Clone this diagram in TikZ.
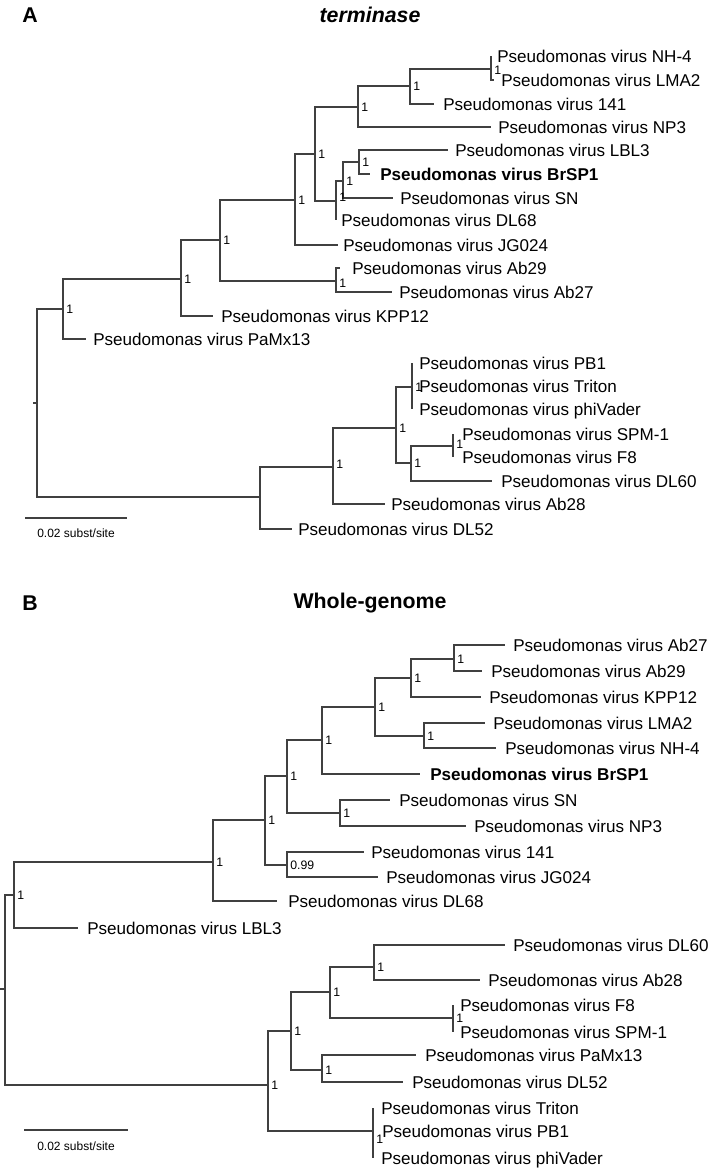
\documentclass[tikz,border=0pt]{standalone}
\usepackage{fontspec}
\setmainfont{Liberation Sans}
\begin{document}
\begin{tikzpicture}[x=0.75pt,y=-0.75pt,
  br/.style={draw=black!75,line width=0.8pt},
  lab/.style={inner sep=0pt,anchor=base west,font=\fontsize{12.8}{14}\selectfont},
  bsl/.style={inner sep=0pt,anchor=west,font=\fontsize{9.2}{10}\selectfont},
  ttl/.style={inner sep=0pt,font=\fontsize{16}{18}\selectfont\bfseries}]
\useasboundingbox (0,0) rectangle (709,1168);
\newcommand\lf[5]{\coordinate (#1) at (#2,#3); \node[lab] (#1t) at (#4,{#3+6}) {#5};}
\newcommand\bsv[3][1]{\node[bsl] (#2l) at ([xshift=2.3pt,yshift=#3]#2) {#1};}
% ---------- A ----------
\node[ttl] (tA) at (30,15) {A};
\node[ttl] (tAt) at (370,15) {\itshape terminase};
\coordinate (ar) at (37,403); \coordinate (arT) at (33,403);
\coordinate (a1) at (63,309); \coordinate (b1) at (260,497);
\coordinate (c1) at (181,279); \coordinate (d1) at (220,240);
\coordinate (e1) at (295,200); \coordinate (f1) at (336,281);
\coordinate (g1) at (315,154); \coordinate (h1) at (358,107);
\coordinate (i1) at (410,86); \coordinate (j1) at (491,69);
\coordinate (p1) at (336,201); \coordinate (q1) at (343,181);
\coordinate (s1) at (359,162);
\coordinate (k1) at (333,467); \coordinate (l1) at (396,428);
\coordinate (m1) at (412,387); \coordinate (n1) at (411,463);
\coordinate (o1) at (453,446);
\lf{aPa}{86}{339}{93}{Pseudomonas virus PaMx13}
\lf{aKP}{213}{316}{221}{Pseudomonas virus KPP12}
\lf{aA29}{340}{268}{352}{Pseudomonas virus Ab29}
\lf{aA27}{392}{292}{399}{Pseudomonas virus Ab27}
\lf{aJG}{338}{245}{343}{Pseudomonas virus JG024}
\lf{aNP}{491}{127}{498}{Pseudomonas virus NP3}
\lf{a141}{434}{104}{443}{Pseudomonas virus 141}
\lf{aNH}{491}{56}{497}{Pseudomonas virus NH-4}
\lf{aLM}{494}{80}{501}{Pseudomonas virus LMA2}
\lf{aDL68}{336}{220}{341}{Pseudomonas virus DL68}
\lf{aSN}{393}{198}{400}{Pseudomonas virus SN}
\lf{aLB}{448}{150}{455}{Pseudomonas virus LBL3}
\lf{aBr}{370}{174}{380}{\bfseries Pseudomonas virus BrSP1}
\lf{aDL52}{292}{529}{298}{Pseudomonas virus DL52}
\lf{aA28}{385}{504}{391}{Pseudomonas virus Ab28}
\lf{aPB}{412}{363}{419}{Pseudomonas virus PB1}
\lf{aTr}{412}{386}{419}{Pseudomonas virus Triton}
\lf{aPh}{412}{409}{419}{Pseudomonas virus phiVader}
\lf{aDL60}{492}{481}{501}{Pseudomonas virus DL60}
\lf{aSP}{453}{434}{462}{Pseudomonas virus SPM-1}
\lf{aF8}{453}{457}{462}{Pseudomonas virus F8}
\draw[br] (arT) -- (ar);
\foreach \p/\c in {ar/a1,ar/b1,a1/c1,a1/aPa,c1/d1,c1/aKP,d1/e1,d1/f1,f1/aA29,f1/aA27,
  e1/g1,e1/aJG,g1/h1,g1/p1,h1/i1,h1/aNP,i1/j1,i1/a141,j1/aNH,j1/aLM,p1/q1,p1/aDL68,
  q1/s1,q1/aSN,s1/aLB,s1/aBr,b1/k1,b1/aDL52,k1/l1,k1/aA28,l1/m1,l1/n1,m1/aPB,m1/aTr,m1/aPh,
  n1/o1,n1/aDL60,o1/aSP,o1/aF8}
  \draw[br] (\p) |- (\c);
\bsv{a1}{0pt}\bsv{c1}{0pt}\bsv{d1}{0pt}\bsv{e1}{0pt}\bsv{f1}{-2pt}\bsv{g1}{0pt}
\bsv{h1}{0pt}\bsv{i1}{0pt}\bsv{j1}{-1pt}\bsv{p1}{3pt}\bsv{q1}{0pt}\bsv{s1}{0pt}
\bsv{k1}{2pt}\bsv{l1}{0pt}\bsv{m1}{0pt}\bsv{n1}{0pt}\bsv{o1}{1pt}
\coordinate (sA1) at (25,518); \coordinate (sA2) at (127,518);
\draw[br] (sA1) -- (sA2);
\node[inner sep=0pt,font=\fontsize{9}{10}\selectfont] (sAt) at (76,533) {0.02 subst/site};
% ---------- B ----------
\node[ttl] (tB) at (30,603) {B};
\node[ttl] (tBt) at (370,603) {Whole-genome};
\coordinate (br0) at (5,989); \coordinate (brT) at (0,989);
\coordinate (U) at (14,895); \coordinate (L) at (268,1085);
\coordinate (V1) at (213,862); \coordinate (W1) at (265,820);
\coordinate (N9) at (287,865); \coordinate (X) at (287,776);
\coordinate (SNn) at (340,813); \coordinate (Y) at (322,740);
\coordinate (Z) at (375,707); \coordinate (W) at (411,678);
\coordinate (T) at (454,659); \coordinate (V) at (424,736);
\coordinate (N) at (373,1131); \coordinate (M) at (291,1031);
\coordinate (J) at (322,1070); \coordinate (K) at (330,992);
\coordinate (I) at (374,967); \coordinate (H) at (453,1018);
\lf{bLB}{78}{928}{87}{Pseudomonas virus LBL3}
\lf{bDL68}{277}{901}{288}{Pseudomonas virus DL68}
\lf{b141}{364}{852}{371}{Pseudomonas virus 141}
\lf{bJG}{378}{877}{386}{Pseudomonas virus JG024}
\lf{bSN}{390}{800}{399}{Pseudomonas virus SN}
\lf{bNP}{466}{826}{474}{Pseudomonas virus NP3}
\lf{bBr}{420}{774}{430}{\bfseries Pseudomonas virus BrSP1}
\lf{bKP}{481}{697}{489}{Pseudomonas virus KPP12}
\lf{bA27}{505}{645}{513}{Pseudomonas virus Ab27}
\lf{bA29}{482}{671}{491}{Pseudomonas virus Ab29}
\lf{bLM}{485}{723}{493}{Pseudomonas virus LMA2}
\lf{bNH}{496}{748}{505}{Pseudomonas virus NH-4}
\lf{bTr}{373}{1108}{381}{Pseudomonas virus Triton}
\lf{bPB}{373}{1131}{382}{Pseudomonas virus PB1}
\lf{bPh}{373}{1158}{381}{Pseudomonas virus phiVader}
\lf{bPa}{416}{1055}{425}{Pseudomonas virus PaMx13}
\lf{bDL52}{403}{1082}{412}{Pseudomonas virus DL52}
\lf{bDL60}{505}{945}{513}{Pseudomonas virus DL60}
\lf{bA28}{480}{980}{488}{Pseudomonas virus Ab28}
\lf{bF8}{453}{1005}{460}{Pseudomonas virus F8}
\lf{bSP}{453}{1032}{460}{Pseudomonas virus SPM-1}
\draw[br] (brT) -- (br0);
\foreach \p/\c in {br0/U,br0/L,U/V1,U/bLB,V1/W1,V1/bDL68,W1/X,W1/N9,N9/b141,N9/bJG,
  X/Y,X/SNn,SNn/bSN,SNn/bNP,Y/Z,Y/bBr,Z/W,Z/V,W/T,W/bKP,T/bA27,T/bA29,V/bLM,V/bNH,
  L/M,L/N,N/bTr,N/bPB,N/bPh,M/K,M/J,J/bPa,J/bDL52,K/I,K/H,I/bDL60,I/bA28,H/bF8,H/bSP}
  \draw[br] (\p) |- (\c);
\bsv{U}{0pt}\bsv{V1}{0pt}\bsv{W1}{0pt}\bsv[0.99]{N9}{0pt}\bsv{X}{0pt}\bsv{SNn}{0pt}
\bsv{Y}{0pt}\bsv{Z}{0pt}\bsv{W}{0pt}\bsv{T}{0pt}\bsv{V}{0pt}
\bsv{L}{0pt}\bsv{N}{-6pt}\bsv{M}{0pt}\bsv{J}{0pt}\bsv{K}{0pt}\bsv{I}{0pt}\bsv{H}{0pt}
\coordinate (sB1) at (24,1130); \coordinate (sB2) at (128,1130);
\draw[br] (sB1) -- (sB2);
\node[inner sep=0pt,font=\fontsize{9}{10}\selectfont] (sBt) at (76,1146) {0.02 subst/site};
\end{tikzpicture}
\end{document}
